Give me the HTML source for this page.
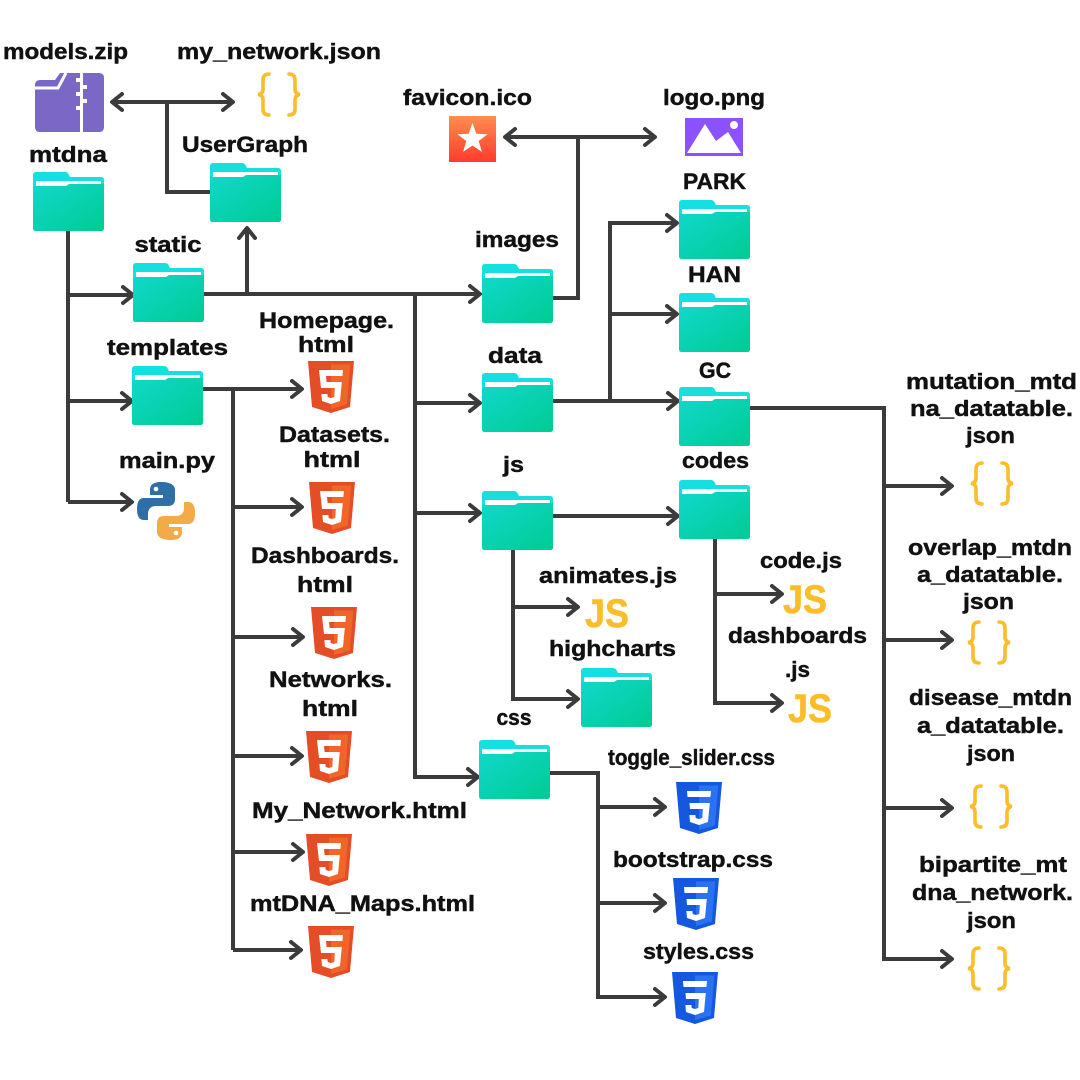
<!DOCTYPE html>
<html><head><meta charset="utf-8"><style>
html,body{margin:0;padding:0;background:#fff;}
svg{display:block;}
text{font-family:"Liberation Sans","DejaVu Sans",sans-serif;font-weight:bold;fill:#111;font-size:22px;stroke:#111;stroke-width:0.45px;paint-order:stroke;}
.ln{stroke:#3b3b3b;stroke-width:4;fill:none;stroke-linecap:butt;}
.ah{stroke:#3b3b3b;stroke-width:4;fill:none;stroke-linecap:round;stroke-linejoin:round;}
.br{stroke:#fbbd2a;stroke-width:3.6;fill:none;stroke-linecap:round;}
text.js{font-size:40px;fill:#fbbd2a;stroke:#fbbd2a;stroke-width:0.6px;font-weight:bold;}
</style></head><body>
<svg width="1080" height="1080" viewBox="0 0 1080 1080" xmlns="http://www.w3.org/2000/svg">
<defs>
<linearGradient id="fg" x1="0" y1="0" x2="1" y2="1">
<stop offset="0" stop-color="#10d8cc"/><stop offset="1" stop-color="#00cb92"/>
</linearGradient>
<linearGradient id="fav" x1="0" y1="0" x2="0" y2="1">
<stop offset="0" stop-color="#ff8d4e"/><stop offset="1" stop-color="#ff3b2e"/>
</linearGradient>
</defs>

<!-- ============ CONNECTORS ============ -->
<path class="ln" d="M112,102 H233 M167,102 V192 H210"/>
<polyline class="ah" points="122,94 112,102 122,110"/>
<polyline class="ah" points="223,94 233,102 223,110"/>
<path class="ln" d="M68,230 V502 M68,295 H132 M68,401 H131 M68,502 H131"/>
<polyline class="ah" points="123,287 133,295 123,303"/>
<polyline class="ah" points="122,393 132,401 122,409"/>
<polyline class="ah" points="122,494 132,502 122,510"/>
<path class="ln" d="M204,294 H479 M247,294 V230 M415,294 V777 H477 M415,403 H479 M415,513 H479"/>
<polyline class="ah" points="470,286 480,294 470,302"/>
<polyline class="ah" points="239,238 247,228 255,238"/>
<polyline class="ah" points="468,769 478,777 468,785"/>
<polyline class="ah" points="470,395 480,403 470,411"/>
<polyline class="ah" points="470,505 480,513 470,521"/>
<path class="ln" d="M202,389 H301 M233,389 V950 M233,507 H301 M233,637 H302 M233,756 H301 M233,852 H302 M233,950 H300"/>
<polyline class="ah" points="292,381 302,389 292,397"/>
<polyline class="ah" points="292,499 302,507 292,515"/>
<polyline class="ah" points="293,629 303,637 293,645"/>
<polyline class="ah" points="292,748 302,756 292,764"/>
<polyline class="ah" points="293,844 303,852 293,860"/>
<polyline class="ah" points="291,942 301,950 291,958"/>
<path class="ln" d="M553,298 H578 V137 M505,137 H655"/>
<polyline class="ah" points="515,129 505,137 515,145"/>
<polyline class="ah" points="645,129 655,137 645,145"/>
<path class="ln" d="M553,401 H677 M610,401 V223 H676 M610,314 H676"/>
<polyline class="ah" points="668,393 678,401 668,409"/>
<polyline class="ah" points="667,215 677,223 667,231"/>
<polyline class="ah" points="667,306 677,314 667,322"/>
<path class="ln" d="M750,408 H884 V959 H951 M884,486 H951 M884,640 H951 M884,808 H951"/>
<polyline class="ah" points="942,478 952,486 942,494"/>
<polyline class="ah" points="942,632 952,640 942,648"/>
<polyline class="ah" points="942,800 952,808 942,816"/>
<polyline class="ah" points="942,951 952,959 942,967"/>
<path class="ln" d="M553,516 H677 M513,549 V699 H577 M513,607 H577"/>
<polyline class="ah" points="668,508 678,516 668,524"/>
<polyline class="ah" points="568,599 578,607 568,615"/>
<polyline class="ah" points="568,691 578,699 568,707"/>
<path class="ln" d="M715,538 V703 H781 M715,594 H781"/>
<polyline class="ah" points="772,586 782,594 772,602"/>
<polyline class="ah" points="772,695 782,703 772,711"/>
<path class="ln" d="M550,773 H598 V997 H664 M598,807 H664 M598,903 H664"/>
<polyline class="ah" points="655,799 665,807 655,815"/>
<polyline class="ah" points="655,895 665,903 655,911"/>
<polyline class="ah" points="655,989 665,997 655,1005"/>

<!-- ============ FOLDERS ============ -->
<g transform="translate(33,172)">
<path d="M3,0 H32 Q35,0 36,3 L37,5 H68 Q71,5 71,8 V56 Q71,59 68,59 H3 Q0,59 0,56 V3 Q0,0 3,0 Z" fill="#16dfe0"/>
<rect x="3" y="9" width="65" height="6" fill="#fff"/>
<path d="M0,14 H33 L36,12 H71 V56 Q71,59 68,59 H3 Q0,59 0,56 Z" fill="url(#fg)"/>
</g>
<g transform="translate(210,163)">
<path d="M3,0 H32 Q35,0 36,3 L37,5 H68 Q71,5 71,8 V56 Q71,59 68,59 H3 Q0,59 0,56 V3 Q0,0 3,0 Z" fill="#16dfe0"/>
<rect x="3" y="9" width="65" height="6" fill="#fff"/>
<path d="M0,14 H33 L36,12 H71 V56 Q71,59 68,59 H3 Q0,59 0,56 Z" fill="url(#fg)"/>
</g>
<g transform="translate(133,263)">
<path d="M3,0 H32 Q35,0 36,3 L37,5 H68 Q71,5 71,8 V56 Q71,59 68,59 H3 Q0,59 0,56 V3 Q0,0 3,0 Z" fill="#16dfe0"/>
<rect x="3" y="9" width="65" height="6" fill="#fff"/>
<path d="M0,14 H33 L36,12 H71 V56 Q71,59 68,59 H3 Q0,59 0,56 Z" fill="url(#fg)"/>
</g>
<g transform="translate(132,366)">
<path d="M3,0 H32 Q35,0 36,3 L37,5 H68 Q71,5 71,8 V56 Q71,59 68,59 H3 Q0,59 0,56 V3 Q0,0 3,0 Z" fill="#16dfe0"/>
<rect x="3" y="9" width="65" height="6" fill="#fff"/>
<path d="M0,14 H33 L36,12 H71 V56 Q71,59 68,59 H3 Q0,59 0,56 Z" fill="url(#fg)"/>
</g>
<g transform="translate(482,264)">
<path d="M3,0 H32 Q35,0 36,3 L37,5 H68 Q71,5 71,8 V56 Q71,59 68,59 H3 Q0,59 0,56 V3 Q0,0 3,0 Z" fill="#16dfe0"/>
<rect x="3" y="9" width="65" height="6" fill="#fff"/>
<path d="M0,14 H33 L36,12 H71 V56 Q71,59 68,59 H3 Q0,59 0,56 Z" fill="url(#fg)"/>
</g>
<g transform="translate(679,200)">
<path d="M3,0 H32 Q35,0 36,3 L37,5 H68 Q71,5 71,8 V56 Q71,59 68,59 H3 Q0,59 0,56 V3 Q0,0 3,0 Z" fill="#16dfe0"/>
<rect x="3" y="9" width="65" height="6" fill="#fff"/>
<path d="M0,14 H33 L36,12 H71 V56 Q71,59 68,59 H3 Q0,59 0,56 Z" fill="url(#fg)"/>
</g>
<g transform="translate(679,293)">
<path d="M3,0 H32 Q35,0 36,3 L37,5 H68 Q71,5 71,8 V56 Q71,59 68,59 H3 Q0,59 0,56 V3 Q0,0 3,0 Z" fill="#16dfe0"/>
<rect x="3" y="9" width="65" height="6" fill="#fff"/>
<path d="M0,14 H33 L36,12 H71 V56 Q71,59 68,59 H3 Q0,59 0,56 Z" fill="url(#fg)"/>
</g>
<g transform="translate(482,373)">
<path d="M3,0 H32 Q35,0 36,3 L37,5 H68 Q71,5 71,8 V56 Q71,59 68,59 H3 Q0,59 0,56 V3 Q0,0 3,0 Z" fill="#16dfe0"/>
<rect x="3" y="9" width="65" height="6" fill="#fff"/>
<path d="M0,14 H33 L36,12 H71 V56 Q71,59 68,59 H3 Q0,59 0,56 Z" fill="url(#fg)"/>
</g>
<g transform="translate(679,387)">
<path d="M3,0 H32 Q35,0 36,3 L37,5 H68 Q71,5 71,8 V56 Q71,59 68,59 H3 Q0,59 0,56 V3 Q0,0 3,0 Z" fill="#16dfe0"/>
<rect x="3" y="9" width="65" height="6" fill="#fff"/>
<path d="M0,14 H33 L36,12 H71 V56 Q71,59 68,59 H3 Q0,59 0,56 Z" fill="url(#fg)"/>
</g>
<g transform="translate(482,491)">
<path d="M3,0 H32 Q35,0 36,3 L37,5 H68 Q71,5 71,8 V56 Q71,59 68,59 H3 Q0,59 0,56 V3 Q0,0 3,0 Z" fill="#16dfe0"/>
<rect x="3" y="9" width="65" height="6" fill="#fff"/>
<path d="M0,14 H33 L36,12 H71 V56 Q71,59 68,59 H3 Q0,59 0,56 Z" fill="url(#fg)"/>
</g>
<g transform="translate(679,480)">
<path d="M3,0 H32 Q35,0 36,3 L37,5 H68 Q71,5 71,8 V56 Q71,59 68,59 H3 Q0,59 0,56 V3 Q0,0 3,0 Z" fill="#16dfe0"/>
<rect x="3" y="9" width="65" height="6" fill="#fff"/>
<path d="M0,14 H33 L36,12 H71 V56 Q71,59 68,59 H3 Q0,59 0,56 Z" fill="url(#fg)"/>
</g>
<g transform="translate(581,668)">
<path d="M3,0 H32 Q35,0 36,3 L37,5 H68 Q71,5 71,8 V56 Q71,59 68,59 H3 Q0,59 0,56 V3 Q0,0 3,0 Z" fill="#16dfe0"/>
<rect x="3" y="9" width="65" height="6" fill="#fff"/>
<path d="M0,14 H33 L36,12 H71 V56 Q71,59 68,59 H3 Q0,59 0,56 Z" fill="url(#fg)"/>
</g>
<g transform="translate(479,740)">
<path d="M3,0 H32 Q35,0 36,3 L37,5 H68 Q71,5 71,8 V56 Q71,59 68,59 H3 Q0,59 0,56 V3 Q0,0 3,0 Z" fill="#16dfe0"/>
<rect x="3" y="9" width="65" height="6" fill="#fff"/>
<path d="M0,14 H33 L36,12 H71 V56 Q71,59 68,59 H3 Q0,59 0,56 Z" fill="url(#fg)"/>
</g>

<!-- ============ ZIP ICON ============ -->
<g transform="translate(35,73)">
<path d="M5,0 H64 Q69,0 69,5 V54 Q69,59 64,59 H5 Q0,59 0,54 V12 Q0,7 5,7 H20 L25,0 Z" fill="#7b67c6"/>
<path d="M0,15 H23 L31,0" stroke="#fff" stroke-width="3" fill="none"/>
<rect x="45" y="0" width="3" height="59" fill="#fff"/>
<rect x="41" y="5" width="4" height="4" fill="#fff"/>
<rect x="48" y="12" width="4" height="4" fill="#fff"/>
<rect x="41" y="19" width="4" height="4" fill="#fff"/>
<rect x="48" y="26" width="4" height="4" fill="#fff"/>
<rect x="41" y="33" width="4" height="4" fill="#fff"/>
</g>

<!-- ============ BRACES ============ -->
<g transform="translate(258,74)">
<path class="br" d="M11,0 Q5,0 5,6 V15 Q5,20 0,20.5 Q5,21 5,26 V35 Q5,41 11,41"/>
<path class="br" d="M31,0 Q37,0 37,6 V15 Q37,20 42,20.5 Q37,21 37,26 V35 Q37,41 31,41"/>
</g>
<g transform="translate(971,463)">
<path class="br" d="M11,0 Q5,0 5,6 V15 Q5,20 0,20.5 Q5,21 5,26 V35 Q5,41 11,41"/>
<path class="br" d="M31,0 Q37,0 37,6 V15 Q37,20 42,20.5 Q37,21 37,26 V35 Q37,41 31,41"/>
</g>
<g transform="translate(968,622)">
<path class="br" d="M11,0 Q5,0 5,6 V15 Q5,20 0,20.5 Q5,21 5,26 V35 Q5,41 11,41"/>
<path class="br" d="M31,0 Q37,0 37,6 V15 Q37,20 42,20.5 Q37,21 37,26 V35 Q37,41 31,41"/>
</g>
<g transform="translate(970,786)">
<path class="br" d="M11,0 Q5,0 5,6 V15 Q5,20 0,20.5 Q5,21 5,26 V35 Q5,41 11,41"/>
<path class="br" d="M31,0 Q37,0 37,6 V15 Q37,20 42,20.5 Q37,21 37,26 V35 Q37,41 31,41"/>
</g>
<g transform="translate(968,948)">
<path class="br" d="M11,0 Q5,0 5,6 V15 Q5,20 0,20.5 Q5,21 5,26 V35 Q5,41 11,41"/>
<path class="br" d="M31,0 Q37,0 37,6 V15 Q37,20 42,20.5 Q37,21 37,26 V35 Q37,41 31,41"/>
</g>

<!-- ============ FAVICON & LOGO ============ -->
<rect x="449" y="116" width="47" height="46" fill="url(#fav)"/>
<polygon fill="#fff" points="472.5,123 476.3,133.7 487.7,134.1 478.7,141 481.9,151.9 472.5,145.5 463.1,151.9 466.3,141 457.3,134.1 468.7,133.7"/>
<rect x="685" y="118" width="58" height="38" fill="#8c52ff"/>
<polygon fill="#fff" points="687,153 705,124 716,141 728,132 741,153"/>
<circle cx="734" cy="125" r="4" fill="#fff"/>

<!-- ============ PYTHON ============ -->
<g transform="translate(137,482)">
<path d="M24,0 C15,0 13,4 13,8 V13 H26 V16 H7 C2,16 0,20 0,27 C0,34 2,38 7,38 H11 V32 C11,27 14,24 19,24 H31 C36,24 38,21 38,17 V8 C38,3 33,0 24,0 Z" fill="#2f6fa8"/>
<circle cx="19" cy="7" r="2.3" fill="#fff"/>
<g transform="rotate(180 29 29)">
<path d="M24,0 C15,0 13,4 13,8 V13 H26 V16 H7 C2,16 0,20 0,27 C0,34 2,38 7,38 H11 V32 C11,27 14,24 19,24 H31 C36,24 38,21 38,17 V8 C38,3 33,0 24,0 Z" fill="#f2ab48"/>
<circle cx="19" cy="7" r="2.3" fill="#fff"/>
</g>
</g>

<!-- ============ HTML5 ICONS ============ -->
<g transform="translate(308,361)">
<polygon points="0,0 46,0 42,46 23,52 4,46" fill="#e44d26"/>
<polygon points="23,3.5 42.3,3.5 38.8,43.5 23,48" fill="#f16529"/>
<path d="M11,9 H35 L34.4,15 H18 L18.6,21 H33.8 L32,40 L23,43 L14,40 L13.4,33 H19.4 L19.7,36 L23,37 L26.3,36 L26.8,27 H13 Z" fill="#fff"/>
</g>
<g transform="translate(309,482)">
<polygon points="0,0 46,0 42,46 23,52 4,46" fill="#e44d26"/>
<polygon points="23,3.5 42.3,3.5 38.8,43.5 23,48" fill="#f16529"/>
<path d="M11,9 H35 L34.4,15 H18 L18.6,21 H33.8 L32,40 L23,43 L14,40 L13.4,33 H19.4 L19.7,36 L23,37 L26.3,36 L26.8,27 H13 Z" fill="#fff"/>
</g>
<g transform="translate(311,607)">
<polygon points="0,0 46,0 42,46 23,52 4,46" fill="#e44d26"/>
<polygon points="23,3.5 42.3,3.5 38.8,43.5 23,48" fill="#f16529"/>
<path d="M11,9 H35 L34.4,15 H18 L18.6,21 H33.8 L32,40 L23,43 L14,40 L13.4,33 H19.4 L19.7,36 L23,37 L26.3,36 L26.8,27 H13 Z" fill="#fff"/>
</g>
<g transform="translate(306,731)">
<polygon points="0,0 46,0 42,46 23,52 4,46" fill="#e44d26"/>
<polygon points="23,3.5 42.3,3.5 38.8,43.5 23,48" fill="#f16529"/>
<path d="M11,9 H35 L34.4,15 H18 L18.6,21 H33.8 L32,40 L23,43 L14,40 L13.4,33 H19.4 L19.7,36 L23,37 L26.3,36 L26.8,27 H13 Z" fill="#fff"/>
</g>
<g transform="translate(306,834)">
<polygon points="0,0 46,0 42,46 23,52 4,46" fill="#e44d26"/>
<polygon points="23,3.5 42.3,3.5 38.8,43.5 23,48" fill="#f16529"/>
<path d="M11,9 H35 L34.4,15 H18 L18.6,21 H33.8 L32,40 L23,43 L14,40 L13.4,33 H19.4 L19.7,36 L23,37 L26.3,36 L26.8,27 H13 Z" fill="#fff"/>
</g>
<g transform="translate(308,926)">
<polygon points="0,0 46,0 42,46 23,52 4,46" fill="#e44d26"/>
<polygon points="23,3.5 42.3,3.5 38.8,43.5 23,48" fill="#f16529"/>
<path d="M11,9 H35 L34.4,15 H18 L18.6,21 H33.8 L32,40 L23,43 L14,40 L13.4,33 H19.4 L19.7,36 L23,37 L26.3,36 L26.8,27 H13 Z" fill="#fff"/>
</g>

<!-- ============ CSS3 ICONS ============ -->
<g transform="translate(676,782)">
<polygon points="0,0 46,0 42,46 23,52 4,46" fill="#1458e0"/>
<polygon points="23,3.5 42.3,3.5 38.8,43.5 23,48" fill="#2a72f2"/>
<path d="M11,9 H35 L34.4,15 H11.5 Z M13.5,21 H33.8 L32,40 L23,43 L14,40 L13.4,33 H19.4 L19.7,36 L23,37 L26.3,36 L26.8,27 H14 Z" fill="#fff"/>
</g>
<g transform="translate(673,878)">
<polygon points="0,0 46,0 42,46 23,52 4,46" fill="#1458e0"/>
<polygon points="23,3.5 42.3,3.5 38.8,43.5 23,48" fill="#2a72f2"/>
<path d="M11,9 H35 L34.4,15 H11.5 Z M13.5,21 H33.8 L32,40 L23,43 L14,40 L13.4,33 H19.4 L19.7,36 L23,37 L26.3,36 L26.8,27 H14 Z" fill="#fff"/>
</g>
<g transform="translate(672,972)">
<polygon points="0,0 46,0 42,46 23,52 4,46" fill="#1458e0"/>
<polygon points="23,3.5 42.3,3.5 38.8,43.5 23,48" fill="#2a72f2"/>
<path d="M11,9 H35 L34.4,15 H11.5 Z M13.5,21 H33.8 L32,40 L23,43 L14,40 L13.4,33 H19.4 L19.7,36 L23,37 L26.3,36 L26.8,27 H14 Z" fill="#fff"/>
</g>

<!-- ============ JS ICONS ============ -->
<text class="js" x="585" y="627" textLength="44" lengthAdjust="spacingAndGlyphs">JS</text>
<text class="js" x="783" y="613" textLength="44" lengthAdjust="spacingAndGlyphs">JS</text>
<text class="js" x="788" y="722" textLength="44" lengthAdjust="spacingAndGlyphs">JS</text>

<!-- ============ LABELS ============ -->
<g text-anchor="middle">
<text x="65.5" y="59" textLength="125" lengthAdjust="spacingAndGlyphs">models.zip</text>
<text x="279" y="59" textLength="204" lengthAdjust="spacingAndGlyphs">my_network.json</text>
<text x="245" y="152" textLength="126" lengthAdjust="spacingAndGlyphs">UserGraph</text>
<text x="68" y="162" textLength="78" lengthAdjust="spacingAndGlyphs">mtdna</text>
<text x="168" y="252" textLength="67" lengthAdjust="spacingAndGlyphs">static</text>
<text x="467.5" y="105" textLength="129" lengthAdjust="spacingAndGlyphs">favicon.ico</text>
<text x="714" y="105" textLength="102" lengthAdjust="spacingAndGlyphs">logo.png</text>
<text x="714.5" y="189" textLength="63" lengthAdjust="spacingAndGlyphs">PARK</text>
<text x="714.5" y="282" textLength="53" lengthAdjust="spacingAndGlyphs">HAN</text>
<text x="517" y="247" textLength="84" lengthAdjust="spacingAndGlyphs">images</text>
<text x="167.5" y="355" textLength="121" lengthAdjust="spacingAndGlyphs">templates</text>
<text x="326.5" y="328" textLength="135" lengthAdjust="spacingAndGlyphs">Homepage.</text>
<text x="326" y="352" textLength="56" lengthAdjust="spacingAndGlyphs">html</text>
<text x="167" y="468" textLength="96" lengthAdjust="spacingAndGlyphs">main.py</text>
<text x="334.5" y="442" textLength="111" lengthAdjust="spacingAndGlyphs">Datasets.</text>
<text x="332" y="467" textLength="57" lengthAdjust="spacingAndGlyphs">html</text>
<text x="515" y="363" textLength="54" lengthAdjust="spacingAndGlyphs">data</text>
<text x="715" y="378" textLength="32" lengthAdjust="spacingAndGlyphs">GC</text>
<text x="513.5" y="472" textLength="21" lengthAdjust="spacingAndGlyphs">js</text>
<text x="715.5" y="468" textLength="67" lengthAdjust="spacingAndGlyphs">codes</text>
<text x="801" y="568" textLength="82" lengthAdjust="spacingAndGlyphs">code.js</text>
<text x="608" y="583" textLength="138" lengthAdjust="spacingAndGlyphs">animates.js</text>
<text x="612.5" y="656" textLength="127" lengthAdjust="spacingAndGlyphs">highcharts</text>
<text x="797.5" y="643" textLength="139" lengthAdjust="spacingAndGlyphs">dashboards</text>
<text x="797.5" y="677" textLength="25" lengthAdjust="spacingAndGlyphs">.js</text>
<text x="514" y="725" textLength="35" lengthAdjust="spacingAndGlyphs">css</text>
<text x="325" y="563" textLength="148" lengthAdjust="spacingAndGlyphs">Dashboards.</text>
<text x="325" y="592" textLength="56" lengthAdjust="spacingAndGlyphs">html</text>
<text x="330.5" y="687" textLength="123" lengthAdjust="spacingAndGlyphs">Networks.</text>
<text x="330" y="716" textLength="56" lengthAdjust="spacingAndGlyphs">html</text>
<text x="359.5" y="818" textLength="215" lengthAdjust="spacingAndGlyphs">My_Network.html</text>
<text x="362.5" y="911" textLength="225" lengthAdjust="spacingAndGlyphs">mtDNA_Maps.html</text>
<text x="691.5" y="765" textLength="167" lengthAdjust="spacingAndGlyphs">toggle_slider.css</text>
<text x="693" y="867" textLength="160" lengthAdjust="spacingAndGlyphs">bootstrap.css</text>
<text x="698.5" y="959" textLength="111" lengthAdjust="spacingAndGlyphs">styles.css</text>
<text x="991.5" y="389" textLength="171" lengthAdjust="spacingAndGlyphs">mutation_mtd</text>
<text x="991.5" y="416" textLength="163" lengthAdjust="spacingAndGlyphs">na_datatable.</text>
<text x="990.5" y="443" textLength="49" lengthAdjust="spacingAndGlyphs">json</text>
<text x="990" y="555" textLength="164" lengthAdjust="spacingAndGlyphs">overlap_mtdn</text>
<text x="990" y="582" textLength="146" lengthAdjust="spacingAndGlyphs">a_datatable.</text>
<text x="988.5" y="609" textLength="51" lengthAdjust="spacingAndGlyphs">json</text>
<text x="990.5" y="705" textLength="163" lengthAdjust="spacingAndGlyphs">disease_mtdn</text>
<text x="990.5" y="733" textLength="147" lengthAdjust="spacingAndGlyphs">a_datatable.</text>
<text x="991" y="761" textLength="48" lengthAdjust="spacingAndGlyphs">json</text>
<text x="993" y="872" textLength="148" lengthAdjust="spacingAndGlyphs">bipartite_mt</text>
<text x="992.5" y="900" textLength="161" lengthAdjust="spacingAndGlyphs">dna_network.</text>
<text x="991.5" y="928" textLength="49" lengthAdjust="spacingAndGlyphs">json</text>
</g>
</svg>
</body></html>
